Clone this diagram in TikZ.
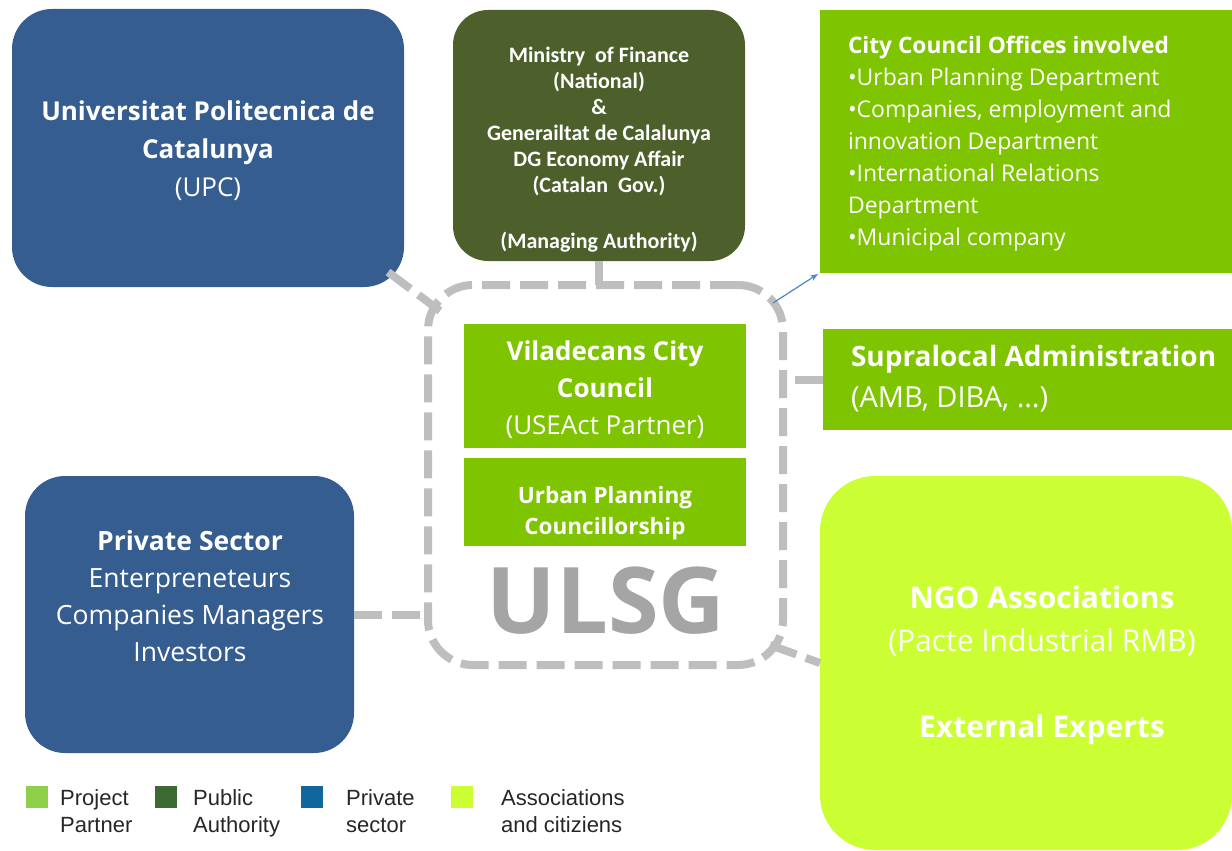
\documentclass[tikz,border=0pt]{standalone}
\usepackage{fontspec}
\setmainfont{Open Sans}
\newfontfamily\narrowfont{Carlito}
\newfontfamily\legendfont{Liberation Sans}
\usetikzlibrary{arrows.meta,calc}

\newcommand\fsz[2]{\fontsize{#1}{#2}\selectfont}

\definecolor{upcblue}{HTML}{365D8F}
\definecolor{authgreen}{HTML}{4D602B}
\definecolor{partgreen}{HTML}{7EC400}
\definecolor{assoclime}{HTML}{CCFF33}
\definecolor{dashgray}{HTML}{BEBEBE}
\definecolor{ulsggray}{HTML}{A5A5A5}
\definecolor{arrowblue}{HTML}{4A86C8}
\definecolor{lgproj}{HTML}{8ED04A}
\definecolor{lgauth}{HTML}{3B6A33}
\definecolor{lgpriv}{HTML}{11669E}
\definecolor{lglime}{HTML}{CCFF33}

\tikzset{
  panel/.style={draw=none, inner sep=0pt, outer sep=0pt},
  txt/.style={text=white, inner sep=0pt, outer sep=0pt},
  conn/.style={draw=dashgray, line width=8pt, dash pattern=on 28pt off 10pt},
  frame/.style={draw=dashgray, line width=8pt, dash pattern=on 28pt off 10pt,
    rounded corners=45pt, inner sep=0pt, outer sep=0pt},
  legsq/.style={minimum width=22pt, minimum height=22pt, inner sep=0pt},
  legtxt/.style={anchor=base west, align=left, inner sep=0pt, text=black!85,
    font=\legendfont\fsz{22}{27}},
}

\begin{document}
\begin{tikzpicture}[x=1pt, y=-1pt]
\useasboundingbox (0,0) rectangle (1232,851);

% ---- boxes ----
\node[panel, fill=upcblue, rounded corners=40pt, minimum width=392pt, minimum height=278pt] (upc) at (208,148) {};
\node[panel, fill=authgreen, rounded corners=35pt, minimum width=292pt, minimum height=251pt] (min) at (599,135.5) {};
\node[panel, fill=partgreen, minimum width=430pt, minimum height=263pt] (council) at (1035,141.5) {};
\node[panel, fill=partgreen, minimum width=417pt, minimum height=101pt] (supra) at (1031.5,379.5) {};
\node[panel, fill=assoclime, rounded corners=55pt, minimum width=412pt, minimum height=374pt] (ngo) at (1026,663) {};
\node[panel, fill=upcblue, rounded corners=40pt, minimum width=329pt, minimum height=277pt] (priv) at (189.5,614.5) {};
\node[panel, fill=partgreen, minimum width=282pt, minimum height=124pt] (vila) at (605,386) {};
\node[panel, fill=partgreen, minimum width=282pt, minimum height=88pt] (urban) at (605,502) {};

% ---- ULSG frame ----
\node[frame, minimum width=355pt, minimum height=380pt] (ulsg) at (605.5,475) {};
\node[text=ulsggray, inner sep=0pt, font=\bfseries\fsz{92}{92}] (ulsgname) at (606,601) {ULSG};

% ---- connectors ----
\draw[conn] ($(upc.south east)+(-16,-15)$) -- ($(ulsg.north west)+(12,26)$);
\draw[conn] (min.south) -- (min.south |- ulsg.north);
\draw[conn] (supra.west) -- (ulsg.east |- supra.west);
\draw[conn] (priv.east) -- (ulsg.west |- priv.east);
\draw[conn] ($(ulsg.south east)+(-13,-20)$) -- (ngo.west);
\draw[arrowblue, line width=1.2pt, -{Stealth[length=8pt,width=6pt]}]
  ($(ulsg.north east)+(-10,18)$) -- ($(council.south west)+(-2,1)$);

% ---- texts ----
\node[txt, align=center, font=\fsz{26}{38}] (upct) at (208,151)
  {{\bfseries Universitat Politecnica de}\\{\bfseries Catalunya}\\(UPC)};
\node[txt, align=center, font=\narrowfont\bfseries\fsz{22}{26}] (mint) at (599,150)
  {Ministry\ \ of Finance\\(National)\\\&\\Generailtat de Calalunya\\DG Economy Affair\\(Catalan\ \ Gov.)\\[30pt](Managing Authority)};
\node[txt, anchor=west, align=left, font=\fsz{23}{32}] (councilt) at (848,144)
  {{\bfseries\fsz{22.7}{32}City Council Offices involved}\\\textbullet Urban Planning Department\\\textbullet Companies, employment and\\innovation Department\\\textbullet International Relations\\Department\\\textbullet Municipal company};
\node[txt, anchor=west, align=left, font=\fsz{29}{41}] (suprat) at (851,378.5)
  {{\bfseries\fsz{28}{41}Supralocal Administration}\\(AMB, DIBA, \dots)};
\node[txt, align=center, font=\fsz{26}{37}] (vilat) at (605,390)
  {{\bfseries Viladecans City}\\{\bfseries Council}\\(USEAct Partner)};
\node[txt, align=center, font=\bfseries\fsz{22.5}{31}] (urbant) at (605,513)
  {Urban Planning\\Councillorship};
\node[txt, align=center, font=\fsz{26.5}{37}] (privt) at (190,596)
  {{\bfseries Private Sector}\\Enterpreneteurs\\Companies Managers\\Investors};
\node[txt, align=center, font=\fsz{30}{43}] (ngot) at (1042,665)
  {{\bfseries NGO Associations}\\(Pacte Industrial RMB)\\[43pt]{\bfseries External Experts}};

% ---- legend ----
\node[legsq, fill=lgproj] (lg1) at (37,797) {};
\node[legtxt] (lg1t) at (60,832) {Project\\Partner};
\node[legsq, fill=lgauth] (lg2) at (165.5,797) {};
\node[legtxt] (lg2t) at (193,832) {Public\\Authority};
\node[legsq, fill=lgpriv] (lg3) at (312,797) {};
\node[legtxt] (lg3t) at (346,832) {Private\\sector};
\node[legsq, fill=lglime] (lg4) at (462,797) {};
\node[legtxt] (lg4t) at (501,832) {Associations\\and citiziens};
\end{tikzpicture}
\end{document}
